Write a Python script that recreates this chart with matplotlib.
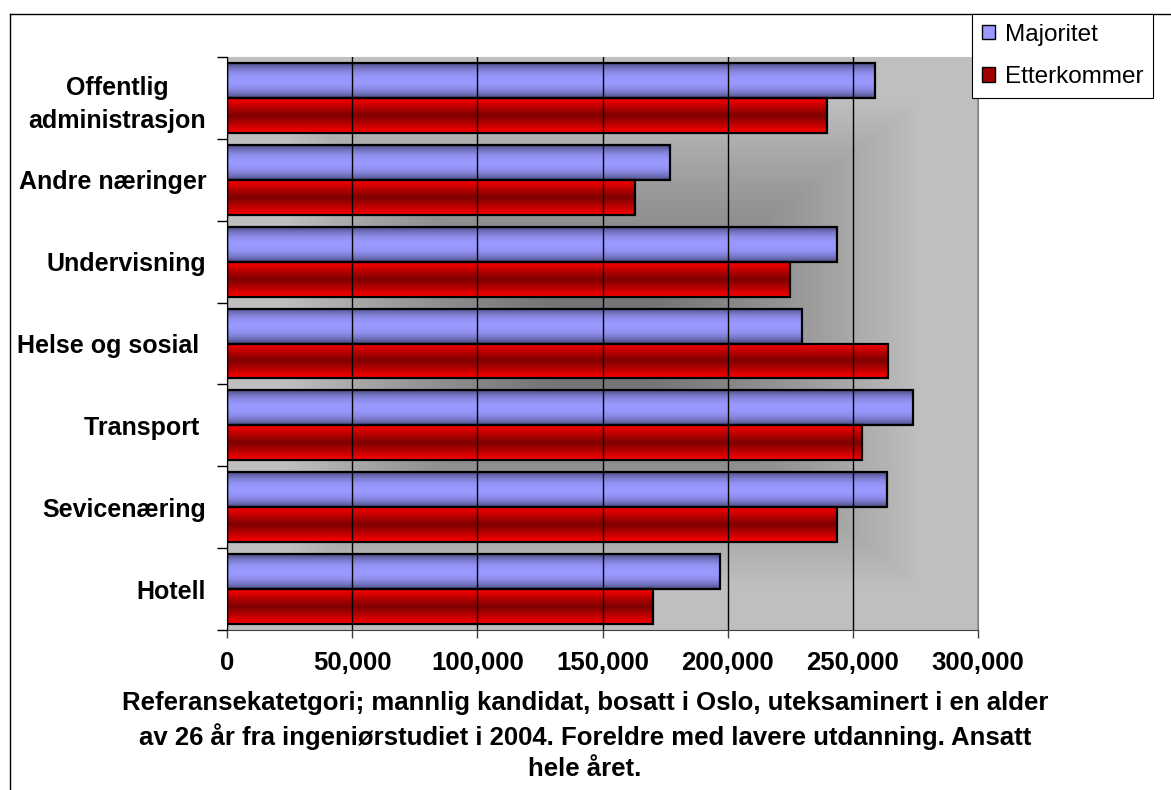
import numpy as np
import matplotlib.pyplot as plt
from matplotlib.lines import Line2D
from matplotlib.patches import Patch
from matplotlib.ticker import FuncFormatter, MultipleLocator, FixedLocator

plt.rcParams['font.family'] = ['Liberation Sans', 'DejaVu Sans']

categories = ['Offentlig\nadministrasjon', 'Andre næringer', 'Undervisning',
              'Helse og sosial ', 'Transport ', 'Sevicenæring', 'Hotell']
majoritet = [259000, 177000, 243500, 229500, 274000, 263500, 197000]
etterkommer = [239500, 163000, 225000, 264000, 253500, 243500, 170000]
series_names = ['Majoritet', 'Etterkommer']
xlabel = ('Referansekatetgori; mannlig kandidat, bosatt i Oslo, uteksaminert i en alder\n'
          'av 26 år fra ingeniørstudiet i 2004. Foreldre med lavere utdanning. Ansatt\n'
          'hele året.')

W, H = 1171, 790
fig = plt.figure(figsize=(W / 100, H / 100), dpi=100)
ax = fig.add_axes([227 / W, 1 - 630 / H, (978 - 227) / W, (630 - 57) / H])

XMAX = 300000
ax.set_xlim(0, XMAX)
ax.set_ylim(len(categories) - 0.5, -0.5)

# grey "from centre" rectangular gradient behind the bars
nx, ny = 400, 300
gx = np.abs(np.linspace(-1, 1, nx))[None, :]
gy = np.abs(np.linspace(-1, 1, ny))[:, None]
d = np.clip(np.maximum(gx, gy) / 0.85, 0, 1)
shade = 0.43 + (0.75 - 0.43) * d ** 1.3
bg = np.dstack([shade, shade, shade])
ax.imshow(bg, extent=(0, XMAX, len(categories) - 0.5, -0.5), aspect='auto',
          zorder=0, interpolation='bilinear')

bar_h = 0.427
y = np.arange(len(categories))


def band(edge, mid, power, n=64):
    t = np.abs(np.linspace(-1, 1, n)) ** power
    rgb = np.array(mid)[None, :] * (1 - t[:, None]) + np.array(edge)[None, :] * t[:, None]
    return rgb[:, None, :]


grad_maj = band((0.30, 0.30, 0.50), (0.60, 0.60, 1.0), 2.2)
grad_etr = band((1.0, 0.0, 0.0), (0.50, 0.0, 0.0), 1.1)

bars_maj = ax.barh(y - bar_h / 2, majoritet, height=bar_h, facecolor='none',
                   edgecolor='black', linewidth=1.6, zorder=3)
bars_etr = ax.barh(y + bar_h / 2, etterkommer, height=bar_h, facecolor='none',
                   edgecolor='black', linewidth=1.6, zorder=3)

for container, grad in ((bars_maj, grad_maj), (bars_etr, grad_etr)):
    for p in container.patches:
        x0, y0, w, h = p.get_x(), p.get_y(), p.get_width(), p.get_height()
        ax.imshow(grad, extent=(x0, x0 + w, y0 + h, y0), aspect='auto',
                  zorder=2, interpolation='bilinear')

ax.set_xlim(0, XMAX)
ax.set_ylim(len(categories) - 0.5, -0.5)

# gridlines and axes
ax.xaxis.set_major_locator(MultipleLocator(50000))
ax.xaxis.set_major_formatter(FuncFormatter(lambda v, pos: f'{int(v):,}'))
ax.grid(axis='x', color='black', linewidth=1)
ax.set_axisbelow(False)
for gl in ax.get_xgridlines():
    gl.set_zorder(1)

ax.set_yticks(y)
ax.set_yticklabels(categories, fontsize=18, fontweight='bold', linespacing=1.45)
ax.get_yticklabels()[0].set_multialignment('center')
ax.yaxis.set_minor_locator(FixedLocator(np.arange(-0.5, len(categories), 1.0)))
ax.tick_params(axis='y', which='major', length=0, pad=15)
ax.tick_params(axis='y', which='minor', length=7, width=1, color='black', direction='out')
ax.tick_params(axis='x', which='major', length=6, width=1, color='#404040',
               labelsize=18.5, pad=9)
for lab in ax.get_xticklabels():
    lab.set_fontweight('bold')

ax.spines['left'].set_color('black')
ax.spines['bottom'].set_color('#404040')
ax.spines['right'].set_color('#808080')
ax.spines['top'].set_color('#c0c0c0')

fig.text(585 / W, 1 - 691 / H, xlabel, ha='center', va='top', fontsize=18.5,
         fontweight='bold', linespacing=1.38)

# chart area border
fig.add_artist(Line2D([10 / W, 1], [1 - 14 / H, 1 - 14 / H], color='black', linewidth=1))
fig.add_artist(Line2D([10 / W, 10 / W], [0, 1 - 14 / H], color='black', linewidth=1))

handles = [Patch(facecolor='#9999ff', edgecolor='black', linewidth=1),
           Patch(facecolor='#a00000', edgecolor='black', linewidth=1)]
leg = fig.legend(handles, series_names, loc='upper left',
                 bbox_to_anchor=(972 / W, 1 - 14 / H), fontsize=17.5,
                 frameon=True, fancybox=False, edgecolor='black', framealpha=1,
                 handlelength=0.55, handleheight=0.55, handletextpad=0.4,
                 labelspacing=0.85, borderpad=0.4, borderaxespad=0)
leg.get_frame().set_linewidth(0.8)

fig.savefig('out.png', dpi=100)
